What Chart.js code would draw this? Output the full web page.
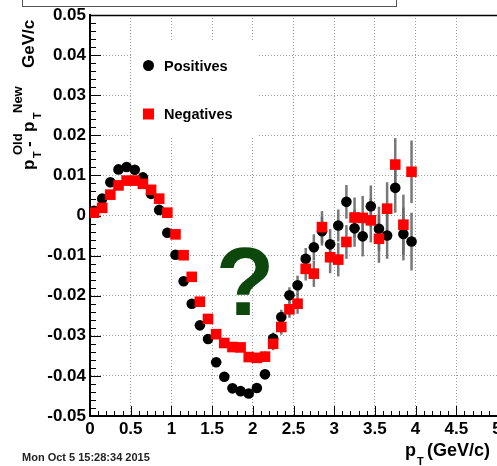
<!DOCTYPE html>
<html>
<head>
<meta charset="utf-8">
<script src="https://cdn.jsdelivr.net/npm/chart.js@4.4.1/dist/chart.umd.min.js"></script>
<style>
  html, body { margin: 0; padding: 0; background: #fff; }
  #wrap { width: 497px; height: 466px; }
</style>
</head>
<body>
<div id="wrap"><canvas id="ptShift" width="497" height="466"></canvas></div>
<script>
// pT bin centres (GeV/c)
const ptBins = [
  0.05, 0.15, 0.25, 0.35, 0.45, 0.55, 0.65, 0.75, 0.85, 0.95,
  1.05, 1.15, 1.25, 1.35, 1.45, 1.55, 1.65, 1.75, 1.85, 1.95,
  2.05, 2.15, 2.25, 2.35, 2.45, 2.55, 2.65, 2.75, 2.85, 2.95,
  3.05, 3.15, 3.25, 3.35, 3.45, 3.55, 3.65, 3.75, 3.85, 3.95
];

// pT(old) - pT(new), positive tracks
const positives = [
  0.0012, 0.0042, 0.0083, 0.0115, 0.0121, 0.0114, 0.0095, 0.0054, 0.0014, -0.0043,
  -0.0098, -0.0164, -0.0220, -0.0274, -0.0308, -0.0366, -0.0402, -0.0431, -0.0438, -0.0444,
  -0.0430, -0.0396, -0.0307, -0.0253, -0.0199, -0.0174, -0.0108, -0.0079, -0.0039, -0.0072,
  -0.0025, 0.0034, -0.0032, -0.0052, 0.0023, -0.0033, -0.0050, 0.0069, -0.0046, -0.0065
];
const positivesErr = [
  0.0004, 0.0004, 0.0004, 0.0004, 0.0004, 0.0004, 0.0004, 0.0004, 0.0004, 0.0004,
  0.0004, 0.0004, 0.0004, 0.0004, 0.0004, 0.0006, 0.0007, 0.0008, 0.0009, 0.0010,
  0.0011, 0.0013, 0.0015, 0.0018, 0.0020, 0.0024, 0.0027, 0.0032, 0.0036, 0.0038,
  0.0040, 0.0042, 0.0046, 0.0050, 0.0052, 0.0055, 0.0058, 0.0062, 0.0066, 0.0072
];

// pT(old) - pT(new), negative tracks
const negatives = [
  0.0007, 0.0019, 0.0052, 0.0075, 0.0087, 0.0087, 0.0079, 0.0064, 0.0042, 0.0007,
  -0.0047, -0.0099, -0.0153, -0.0215, -0.0258, -0.0296, -0.0318, -0.0328, -0.0329, -0.0353,
  -0.0355, -0.0352, -0.0320, -0.0278, -0.0234, -0.0220, -0.0133, -0.0145, -0.0029, -0.0104,
  -0.0110, -0.0066, -0.0005, -0.0006, -0.0012, -0.0058, 0.0017, 0.0127, -0.0023, 0.0109
];
const negativesErr = [
  0.0004, 0.0004, 0.0004, 0.0004, 0.0004, 0.0004, 0.0004, 0.0004, 0.0004, 0.0004,
  0.0004, 0.0004, 0.0004, 0.0004, 0.0004, 0.0006, 0.0007, 0.0008, 0.0009, 0.0010,
  0.0011, 0.0013, 0.0016, 0.0019, 0.0021, 0.0025, 0.0029, 0.0033, 0.0040, 0.0040,
  0.0042, 0.0042, 0.0050, 0.0055, 0.0055, 0.0060, 0.0066, 0.0066, 0.0075, 0.0078
];

const xTicks = [0, 0.5, 1, 1.5, 2, 2.5, 3, 3.5, 4, 4.5, 5];
const yTicks = [-0.05, -0.04, -0.03, -0.02, -0.01, 0, 0.01, 0.02, 0.03, 0.04, 0.05];

const FONT = '"Liberation Sans", Arial, Helvetica, sans-serif';

const toPoints = (vals) => ptBins.map((x, i) => ({ x, y: vals[i] }));

// ROOT-ish frame: inward ticks, error bars, legend pave, titles
const rootStyle = {
  id: 'rootStyle',
  beforeDatasetsDraw(chart) {
    const { ctx, chartArea: a, scales: { x, y } } = chart;
    ctx.save();

    // error bars under the markers
    ctx.strokeStyle = 'rgba(105,105,105,0.9)';
    ctx.lineWidth = 2.5;
    [[positives, positivesErr], [negatives, negativesErr]].forEach(([vals, errs]) => {
      ptBins.forEach((pt, i) => {
        const px = x.getPixelForValue(pt);
        ctx.beginPath();
        ctx.moveTo(px, y.getPixelForValue(vals[i] - errs[i]));
        ctx.lineTo(px, y.getPixelForValue(vals[i] + errs[i]));
        ctx.stroke();
      });
    });

    // tick marks pointing into the frame
    ctx.strokeStyle = '#000';
    ctx.lineWidth = 1;
    ctx.beginPath();
    for (let i = -25; i <= 25; i++) {
      const py = Math.round(y.getPixelForValue(i * 0.002)) + 0.5;
      const len = i % 5 === 0 ? 11 : 6;
      ctx.moveTo(a.left, py);
      ctx.lineTo(a.left + len, py);
    }
    for (let i = 0; i <= 50; i++) {
      const px = Math.round(x.getPixelForValue(i * 0.1)) + 0.5;
      const len = i % 5 === 0 ? 10 : 5;
      ctx.moveTo(px, a.bottom);
      ctx.lineTo(px, a.bottom - len);
    }
    ctx.stroke();

    // top edge of the frame
    ctx.lineWidth = 1.5;
    ctx.beginPath();
    ctx.moveTo(a.left, a.top + 0.5);
    ctx.lineTo(a.right, a.top + 0.5);
    ctx.stroke();
    ctx.restore();
  },
  afterDatasetsDraw(chart) {
    const { ctx } = chart;
    ctx.save();

    // legend pave
    ctx.fillStyle = '#fff';
    ctx.fillRect(132, 40, 125, 98);
    ctx.fillStyle = '#000';
    ctx.beginPath();
    ctx.arc(148.5, 65.5, 5.5, 0, Math.PI * 2);
    ctx.fill();
    ctx.fillStyle = '#ff0000';
    ctx.fillRect(143, 108.5, 11, 11);
    ctx.fillStyle = '#000';
    ctx.font = `bold 14.5px ${FONT}`;
    ctx.textBaseline = 'middle';
    ctx.fillText('Positives', 164, 66.5);
    ctx.fillText('Negatives', 164, 114.5);

    // big question mark
    ctx.fillStyle = '#0c480c';
    ctx.font = `bold 96px ${FONT}`;
    ctx.textAlign = 'center';
    ctx.textBaseline = 'alphabetic';
    ctx.fillText('?', 245, 315);
    ctx.restore();
  },
  afterDraw(chart) {
    const { ctx } = chart;
    ctx.save();
    ctx.fillStyle = '#000';
    ctx.textBaseline = 'alphabetic';

    // y title, rotated: p_T^Old - p_T^New GeV/c
    ctx.translate(34, 170);
    ctx.rotate(-Math.PI / 2);
    const yTitle = [
      { t: 'p', s: 17, d: 0, o: 0 },
      { t: 'T', s: 11, d: 12, o: 7 },
      { t: 'Old', s: 13, d: 15, o: -12 },
      { t: '-', s: 17, d: 23, o: 0 },
      { t: 'p', s: 17, d: 38, o: 0 },
      { t: 'T', s: 11, d: 51, o: 7 },
      { t: 'New', s: 13, d: 57, o: -12 },
      { t: 'GeV/c', s: 17, d: 102, o: 0 }
    ];
    yTitle.forEach(p => {
      ctx.font = `bold ${p.s}px ${FONT}`;
      ctx.fillText(p.t, p.d, p.o);
    });
    ctx.setTransform(1, 0, 0, 1, 0, 0);

    // x title: p_T(GeV/c)
    ctx.font = `bold 18px ${FONT}`;
    ctx.fillText('p', 405, 456);
    ctx.font = `bold 11px ${FONT}`;
    ctx.fillText('T', 417, 465);
    ctx.font = `bold 18px ${FONT}`;
    ctx.fillText('(GeV/c)', 427, 456);

    // time stamp
    ctx.fillStyle = '#222';
    ctx.font = `bold 11px ${FONT}`;
    ctx.fillText('Mon Oct 5 15:28:34 2015', 22, 461);

    // title pave, mostly above the canvas
    ctx.fillStyle = '#fff';
    ctx.strokeStyle = '#555';
    ctx.lineWidth = 1;
    ctx.fillRect(22, -5, 374, 11);
    ctx.strokeRect(22.5, -5, 374, 11.5);
    ctx.restore();
  }
};

const borderStyle = { display: true, color: '#000', width: 2, dash: [1, 2] };

new Chart(document.getElementById('ptShift'), {
  type: 'scatter',
  data: {
    datasets: [
      {
        label: 'Positives',
        data: toPoints(positives),
        pointStyle: 'circle',
        pointRadius: 5.3,
        backgroundColor: '#000',
        borderWidth: 0,
        order: 2
      },
      {
        label: 'Negatives',
        data: toPoints(negatives),
        pointStyle: 'rect',
        pointRadius: 7.5,
        backgroundColor: '#ff0000',
        borderWidth: 0,
        order: 1
      }
    ]
  },
  options: {
    responsive: false,
    animation: false,
    devicePixelRatio: 1,
    // frame runs right up to the canvas edge, so no marker padding
    layout: { autoPadding: false, padding: { top: 15, right: 0, bottom: 0, left: 0 } },
    plugins: {
      legend: { display: false },
      tooltip: { enabled: false }
    },
    scales: {
      x: {
        type: 'linear',
        min: 0,
        max: 5,
        afterBuildTicks: s => { s.ticks = xTicks.map(value => ({ value })); },
        ticks: {
          color: '#000',
          padding: -5,
          maxRotation: 0,
          font: { family: FONT, size: 17, weight: 'bold' },
          callback: v => String(v)
        },
        grid: { color: '#9c9c9c', lineWidth: 1, drawTicks: true, tickLength: 8, tickColor: 'rgba(0,0,0,0)' },
        border: borderStyle,
        afterFit: s => { s.height = 50; s.paddingLeft = 0; s.paddingRight = 0; }
      },
      y: {
        type: 'linear',
        min: -0.05,
        max: 0.05,
        afterBuildTicks: s => { s.ticks = yTicks.map(value => ({ value })); },
        ticks: {
          color: '#000',
          padding: 4,
          font: { family: FONT, size: 17, weight: 'bold' },
          callback: v => (Math.abs(v) < 1e-9 ? '0' : v.toFixed(2))
        },
        grid: { color: '#9c9c9c', lineWidth: 1, drawTicks: false },
        border: borderStyle,
        afterFit: s => { s.width = 90; s.paddingTop = 0; s.paddingBottom = 0; }
      }
    }
  },
  plugins: [rootStyle]
});
</script>
</body>
</html>
